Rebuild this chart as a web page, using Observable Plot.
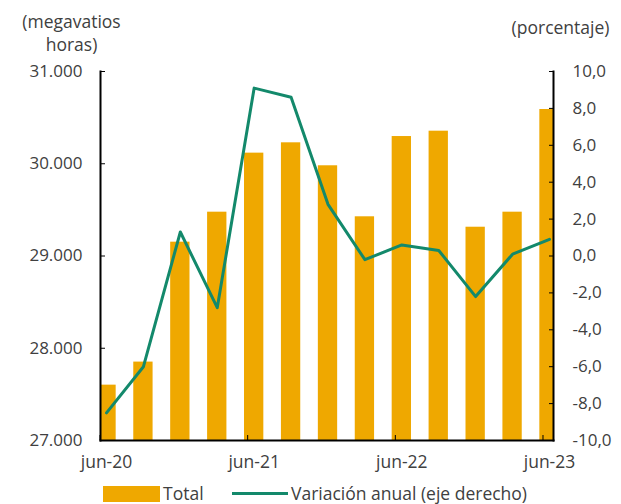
<!DOCTYPE html>
<html>
<head>
<meta charset="utf-8">
<script src="https://cdn.jsdelivr.net/npm/d3@7"></script>
<script src="https://cdn.jsdelivr.net/npm/@observablehq/plot@0.6"></script>
<style>
  body { margin: 0; background: white; font-family: "Open Sans", sans-serif; color: #404040; }
  #chart { width: 621px; }
  .legend { position: relative; height: 30px; font-size: 17.5px; }
  .legend .sw { position: absolute; left: 103px; top: 12px; width: 57px; height: 16px; background: #EFA800; }
  .legend .t1 { position: absolute; left: 163px; top: 9px; line-height: 20px; }
  .legend .ln { position: absolute; left: 232px; top: 18px; width: 56px; height: 3px; background: #13896B; }
  .legend .t2 { position: absolute; left: 291px; top: 9px; line-height: 20px; }
</style>
</head>
<body>
<div id="chart"></div>
<script>
const quarters = ["jun-20","sep-20","dic-20","mar-21","jun-21","sep-21","dic-21","mar-22","jun-22","sep-22","dic-22","mar-23","jun-23"];
const totals = [27600, 27850, 29150, 29475, 30115, 30227, 29978, 29425, 30295, 30353, 29312, 29475, 30588];
const variation = [-8.5, -6.0, 1.3, -2.8, 9.1, 8.6, 2.8, -0.2, 0.6, 0.3, -2.2, 0.1, 0.9];
const leftTicks = [27000, 28000, 29000, 30000, 31000];
const rightTicks = [-10, -8, -6, -4, -2, 0, 2, 4, 6, 8, 10];
const xTickLabels = ["jun-20", "jun-21", "jun-22", "jun-23"];

const locale = d3.formatLocale({decimal: ",", thousands: ".", grouping: [3], currency: ["", "€"], minus: "-"});
const fmtLeft = locale.format(",.0f");
const fmtRight = locale.format(".1f");

const leftDomain = [27000, 31000];
const rightDomain = [-10, 10];
const toLeft = v => leftDomain[0] + (v - rightDomain[0]) / (rightDomain[1] - rightDomain[0]) * (leftDomain[1] - leftDomain[0]);
const fromLeft = v => rightDomain[0] + (v - leftDomain[0]) / (leftDomain[1] - leftDomain[0]) * (rightDomain[1] - rightDomain[0]);

const rows = quarters.map((q, i) => ({i, q, total: totals[i], v: variation[i]}));
const tickIdx = xTickLabels.map(l => quarters.indexOf(l));

const chart = Plot.plot({
  width: 621,
  height: 474,
  marginLeft: 100,
  marginRight: 68,
  marginTop: 71,
  marginBottom: 34,
  x: {type: "linear", domain: [-0.5, quarters.length - 0.5], range: [87.55, 567.45]},
  y: {domain: leftDomain},
  style: {fontFamily: "'Open Sans', sans-serif", fontSize: "17px", color: "#404040", background: "white", overflow: "visible"},
  marks: [
    Plot.rectY(rows, {x1: d => d.i - 0.5, x2: d => d.i + 0.5, y1: leftDomain[0], y2: "total", insetLeft: 8.8, insetRight: 8.8, fill: "#EFA800", clip: true}),
    Plot.line(rows, {x: "i", y: d => toLeft(d.v), stroke: "#13896B", strokeWidth: 3, clip: true}),
    Plot.frame({anchor: "left", stroke: "#000", strokeWidth: 2}),
    Plot.frame({anchor: "right", stroke: "#000", strokeWidth: 2}),
    Plot.frame({anchor: "bottom", stroke: "#000", strokeWidth: 2}),
    Plot.axisY({anchor: "left", ticks: leftTicks, tickSize: -5, tickFormat: () => "", stroke: "#000", label: null}),
    Plot.axisY({anchor: "left", ticks: leftTicks, tickSize: 0, tickPadding: 18, tickFormat: fmtLeft, label: null, fill: "#404040"}),
    Plot.axisY({anchor: "right", ticks: rightTicks.map(toLeft), tickSize: -5, tickFormat: () => "", stroke: "#000", label: null}),
    Plot.axisY({anchor: "right", ticks: rightTicks.map(toLeft), tickSize: 0, tickPadding: 19, tickFormat: d => fmtRight(fromLeft(d)), label: null, fill: "#404040"}),
    Plot.axisX({anchor: "bottom", ticks: tickIdx, tickSize: -5, tickFormat: () => "", stroke: "#000", dx: -6.5, label: null}),
    Plot.axisX({anchor: "bottom", ticks: tickIdx, tickSize: 0, tickPadding: 15, tickFormat: i => quarters[i], label: null, fill: "#404040", fontSize: 17.5}),
    Plot.text(["(megavatios\nhoras)"], {frameAnchor: "top-left", dx: -29, dy: -39, lineAnchor: "middle", lineHeight: 1.3, textAnchor: "middle", fill: "#404040", fontSize: 17.5}),
    Plot.text(["(porcentaje)"], {frameAnchor: "top-right", dx: 7, dy: -43, lineAnchor: "middle", textAnchor: "middle", fill: "#404040", fontSize: 17.5})
  ]
});
document.getElementById("chart").appendChild(chart);

const legend = document.createElement("div");
legend.className = "legend";
legend.innerHTML = '<div class="sw"></div><span class="t1">Total</span><div class="ln"></div><span class="t2">Variación anual (eje derecho)</span>';
document.getElementById("chart").appendChild(legend);
</script>
</body>
</html>
